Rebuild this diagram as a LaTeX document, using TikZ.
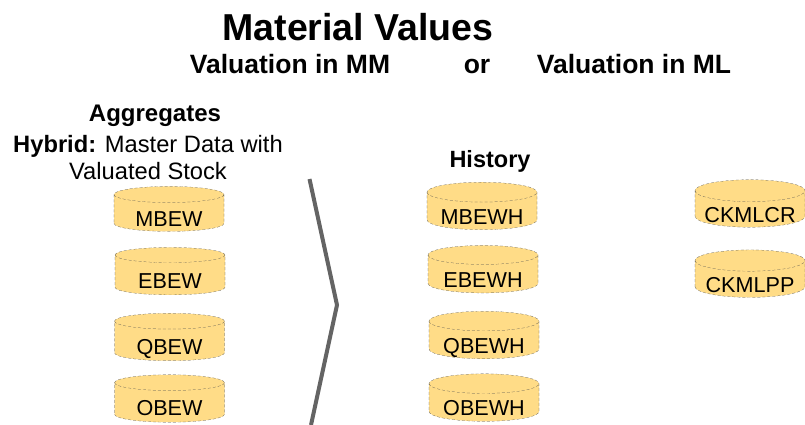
\documentclass[tikz,border=0pt]{standalone}
\usepackage{fontspec}
\setmainfont{Liberation Sans}
\usetikzlibrary{shapes.geometric}
\definecolor{tablefill}{RGB}{255,220,135}
\definecolor{chevrongray}{RGB}{100,100,100}
\newcommand{\tbl}[1]{\raisebox{-13pt}[0pt][0pt]{#1}}
\tikzset{
    table-box/.style = {draw=black!70, densely dashed, very thin, fill=tablefill, cylinder, shape border rotate=90, aspect=0.24, minimum width=110pt, minimum height=47.5pt, inner sep=0pt, font=\fontsize{21.6}{24}\selectfont},
    head-text/.style = {font=\fontsize{26.5}{30}\selectfont\bfseries, anchor=base},
    side-text/.style = {font=\fontsize{24}{28}\selectfont\bfseries},
    body-text/.style = {font=\fontsize{23.7}{27}\selectfont, align=center},
}
\begin{document}
\begin{tikzpicture}[x=1pt,y=-1pt]
\useasboundingbox (0,0) rectangle (805,425);
\node [font=\fontsize{37.5}{40}\selectfont\bfseries] (title) at (358,27) {Material Values};
\node [head-text] (mm) at (290,74) {Valuation in MM};
\node [head-text] (or) at (477,74) {or};
\node [head-text] (ml) at (634,74) {Valuation in ML};
\node [side-text] (aggregates) at (155,116) {Aggregates};
\node [body-text] (hybrid) at (148,158) {\textbf{Hybrid:} Master Data with\\Valuated Stock};
\node [font=\fontsize{23.5}{26}\selectfont\bfseries] (history) at (490,161) {History};

\node [table-box, minimum height=45pt] (mbew) at (169,213) {\tbl{MBEW}};
\node [table-box] (ebew) at (170,275) {\tbl{EBEW}};
\node [table-box] (qbew) at (169.5,341) {\tbl{QBEW}};
\node [table-box] (obew) at (169.5,402.5) {\tbl{OBEW}};

\node [table-box] (mbewh) at (482,211) {\tbl{MBEWH}};
\node [table-box] (ebewh) at (483,274) {\tbl{EBEWH}};
\node [table-box] (qbewh) at (484,340) {\tbl{QBEWH}};
\node [table-box] (obewh) at (484,402.5) {\tbl{OBEWH}};

\node [table-box] (ckmlcr) at (750,209) {\tbl{CKMLCR}};
\node [table-box] (ckmlpp) at (750,279) {\tbl{CKMLPP}};

\draw [chevrongray, line width=4pt] (309.5,179) -- (337,305) -- (311,425);
\end{tikzpicture}
\end{document}
